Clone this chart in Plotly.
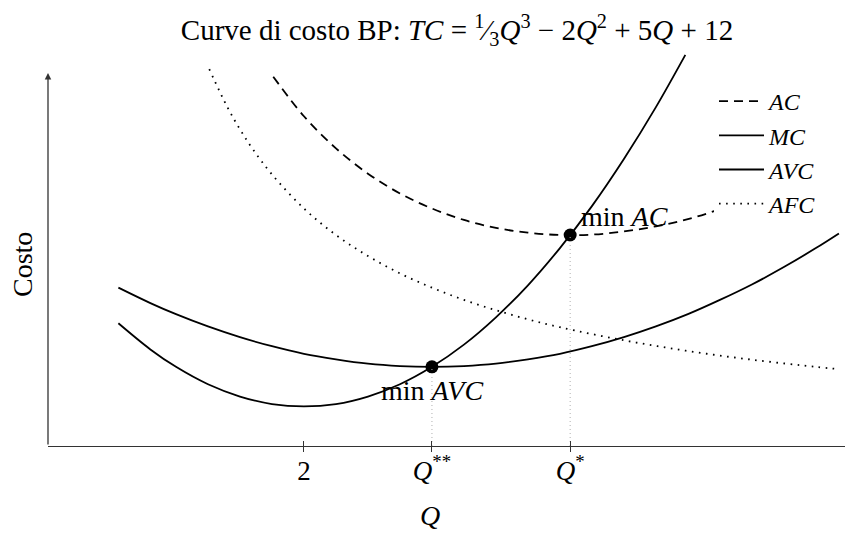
import plotly.graph_objects as go

# ---- data ----
q_mc = [0.55, 0.8, 1.0, 1.25, 1.5, 1.75, 2.0, 2.25, 2.5, 2.75, 3.0, 3.25, 3.5, 3.75, 4.0, 4.25, 4.5, 4.75, 4.98]
mc = [3.10, 2.44, 2.00, 1.56, 1.25, 1.06, 1.00, 1.06, 1.25, 1.56, 2.00, 2.56, 3.25, 4.06, 5.00, 6.06, 7.25, 8.56, 9.88]

q_avc = [0.55, 0.8, 1.0, 1.25, 1.5, 1.75, 2.0, 2.25, 2.5, 2.75, 3.0, 3.25, 3.5, 3.75, 4.0, 4.25, 4.5, 4.75, 5.0, 5.25, 5.5, 5.75, 6.0, 6.18]
avc = [4.00, 3.61, 3.33, 3.02, 2.75, 2.52, 2.33, 2.19, 2.08, 2.02, 2.00, 2.02, 2.08, 2.19, 2.33, 2.52, 2.75, 3.02, 3.33, 3.69, 4.08, 4.52, 5.00, 5.37]

q_afc = [1.26, 1.4, 1.5, 1.6, 1.75, 2.0, 2.25, 2.5, 2.75, 3.0, 3.25, 3.5, 3.75, 4.0, 4.5, 5.0, 5.5, 6.0, 6.18]
afc = [9.52, 8.57, 8.00, 7.50, 6.86, 6.00, 5.33, 4.80, 4.36, 4.00, 3.69, 3.43, 3.20, 3.00, 2.67, 2.40, 2.18, 2.00, 1.94]

q_ac = [1.76, 2.0, 2.25, 2.5, 2.75, 3.0, 3.25, 3.5, 3.75, 4.0, 4.25, 4.5, 4.75, 5.0, 5.25, 5.5, 5.75, 6.0, 6.18]
ac = [9.33, 8.33, 7.52, 6.88, 6.38, 6.00, 5.71, 5.51, 5.39, 5.33, 5.34, 5.42, 5.55, 5.73, 5.98, 6.26, 6.61, 7.00, 7.31]

q_min_avc, min_avc = 3.0, 2.0
q_min_ac, min_ac = 4.08, 5.33

tick_vals = [2, q_min_avc, q_min_ac]
tick_text = ["2", "<i>Q</i><sup>**</sup>", "<i>Q</i><sup>*</sup>"]

y_arrow_top = 9.42

FONT = "Liberation Serif"
LW = 1.8
PAD = "\u00a0" * 5  # keeps the white legend box as wide as in the reference

# page offset of the figure div (default body margin)
OFF = 8
W, H = 853 - OFF, 534 - OFF
ML, MT, MB, MR = 48 - OFF, 45 - OFF, 88, 0
PW = W - ML - MR
PH = H - MT - MB


def px_x(px):
    return (px - OFF - ML) / PW


def px_y(py):
    return (H - MB - (py - OFF)) / PH


fig = go.Figure()
fig.add_trace(go.Scatter(x=q_ac, y=ac, mode="lines", name="<i>AC</i>" + PAD,
                         line=dict(color="black", width=LW, dash="9px,6px", shape="spline")))
fig.add_trace(go.Scatter(x=q_mc, y=mc, mode="lines", name="<i>MC</i>" + PAD,
                         line=dict(color="black", width=LW, shape="spline")))
fig.add_trace(go.Scatter(x=q_avc, y=avc, mode="lines", name="<i>AVC</i>" + PAD,
                         line=dict(color="black", width=LW, shape="spline")))
fig.add_trace(go.Scatter(x=q_afc, y=afc, mode="lines", name="<i>AFC</i>" + PAD,
                         line=dict(color="black", width=LW, dash="1.6px,5.5px", shape="spline")))

# gray dotted guides (drawn on overlay axis, which also provides inside ticks)
fig.add_trace(go.Scatter(x=[q_min_avc, q_min_avc], y=[0, min_avc], mode="lines", xaxis="x2",
                         showlegend=False, line=dict(color="#b0b0b0", width=1, dash="1px,3px")))
fig.add_trace(go.Scatter(x=[q_min_ac, q_min_ac], y=[0, min_ac], mode="lines", xaxis="x2",
                         showlegend=False, line=dict(color="#b0b0b0", width=1, dash="1px,3px")))

fig.add_trace(go.Scatter(x=[q_min_avc, q_min_ac], y=[min_avc, min_ac], mode="markers",
                         showlegend=False, marker=dict(color="black", size=13)))

xr = [0, 6.29]
yr = [0, 10.13]

fig.update_layout(
    width=W, height=H,
    margin=dict(l=ML, r=MR, t=MT, b=MB),
    paper_bgcolor="white", plot_bgcolor="white",
    font=dict(family=FONT, size=27, color="black"),
    showlegend=True,
    legend=dict(x=px_x(714), y=px_y(79), xanchor="left", yanchor="top", bgcolor="white",
                font=dict(size=24), itemwidth=45, tracegroupgap=0),
    title=dict(text="Curve di costo BP: <i>TC</i> = <sup>1</sup>⁄<sub>3</sub><i>Q</i><sup>3</sup> − 2<i>Q</i><sup>2</sup> + 5<i>Q</i> + 12",
               x=px_x(457), xref="paper", xanchor="center", y=1 - (30 - OFF) / H, yanchor="middle",
               font=dict(size=29)),
    xaxis=dict(range=xr, showgrid=False, zeroline=False, showline=True, linecolor="#333", linewidth=1.3,
               tickmode="array", tickvals=tick_vals, ticktext=tick_text, ticks="outside",
               ticklen=5, tickwidth=1.1, tickcolor="#333", tickfont=dict(size=27),
               ticklabelstandoff=-5),
    xaxis2=dict(range=xr, overlaying="x", anchor="y", showgrid=False, zeroline=False, showline=False,
                tickmode="array", tickvals=tick_vals, ticks="inside", ticklen=5, tickwidth=1.1,
                tickcolor="#333", showticklabels=False),
    yaxis=dict(range=yr, showgrid=False, zeroline=False, showline=False, showticklabels=False, ticks=""),
    annotations=[
        dict(x=0, y=y_arrow_top, ax=0, ay=0, xref="x", yref="y", axref="x", ayref="y", text="",
             showarrow=True, arrowhead=2, arrowsize=1, arrowwidth=1.3, arrowcolor="#333", standoff=0),
        dict(x=q_min_ac, y=min_ac, xref="x", yref="y", text="min <i>AC</i>", showarrow=False,
             xanchor="left", yanchor="bottom", xshift=9, yshift=1, font=dict(size=28)),
        dict(x=q_min_avc, y=min_avc, xref="x", yref="y", text="min <i>AVC</i>", showarrow=False,
             xanchor="center", yanchor="top", yshift=-6, font=dict(size=28)),
        dict(x=px_x(430), y=px_y(515), xref="paper", yref="paper", text="<i>Q</i>",
             showarrow=False, xanchor="center", yanchor="middle", font=dict(size=28)),
        dict(x=px_x(22), y=px_y(265), xref="paper", yref="paper", text="Costo",
             textangle=-90, showarrow=False, xanchor="center", yanchor="middle", font=dict(size=28)),
    ],
)

fig.write_html("out.html")
